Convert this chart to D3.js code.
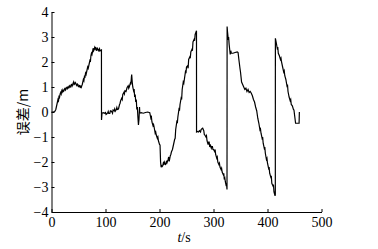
<!DOCTYPE html>
<html><head><meta charset="utf-8">
<script src="https://cdn.jsdelivr.net/npm/d3@7"></script>
<style>
html,body{margin:0;padding:0;background:#fff;}
svg{display:block;}
</style></head>
<body>
<svg id="c" width="378" height="249"></svg>
<script>
const time = [0,3,6,8,10,11,12,13,14,15,16,17,18,19,20,21,22,23,24,25,26,27,28,29,30,31,32,33,34,35,36,37,38,39,40,41,42,43,44,45,46,47,48,49,50,51,52,53,54,55,56,57,58,59,60,61,62,63,64,65,66,67,68,69,70,71,72,73,74,75,76,77,78,79,80,81,82,83,84,85,86,87,88,89,90,91,92.5,92.6,93.5,
96,98,100,101,102,104,105,106,108,109,110,112,113,114,116,117,118,120,121,122,124,126,127,128,130,131,132,134,135,136,138,139,140,142,143,144,146,147,148,148.5,149.5,150.5,152,153,154,155,156,157,158,159,160,161,162,163,163.5,166,170,174,178,182,184,185,186,188,189,190,192,193,194,196,197,198,200,201,202,203,204,205,206,207,208,209,210,211,212,213,214,216,217,218,220,221,222,224,225,226,228,229,230,232,233,234,236,237,238,240,241,242,244,245,246,248,249,250,252,253,254,256,257,258,260,261,262,264,265,266,268,268.5,
268.6,270,272,274,276,277,278,280,282,283,284,286,287,288,290,291,292,293,294,296,297,298,299,300,302,303,304,306,307,308,310,311,312,314,315,316,318,319,320,321,322,323,324,325,
325.2,326,327.5,328,329,330,331,332,333,336,340,344,345.5,347,349,350,352,354,356,358,360,362,364,366,368,370,372,374,376,378,380,382,384,386,387,388,390,391,392,394,395,396,398,399,400,402,403,404,406,407,408,410,411,412,414,414.5,
414.6,416,418,419,420,422,424,425,426,428,430,431,432,434,436,437,438,440,442,443,444,446,448,449,450,452,456,458.5,459];
const error = [0,0.0,0.02,0.1,0.3,0.4,0.5,0.45,0.66,0.6,0.72,0.78,0.72,0.85,0.8,0.88,0.82,0.84,0.92,0.95,0.88,0.92,0.98,1.0,0.93,0.96,1.02,1.05,0.98,1.0,1.08,1.1,1.03,1.08,1.15,1.2,1.1,1.12,1.18,1.15,1.08,1.05,1.12,1.1,1.02,1.0,1.06,1.05,0.98,0.97,1.05,1.1,1.2,1.3,1.25,1.42,1.4,1.55,1.5,1.6,1.7,1.8,1.75,1.85,1.95,2.05,2.0,2.25,2.35,2.3,2.4,2.55,2.45,2.5,2.58,2.5,2.6,2.45,2.52,2.55,2.48,2.5,2.42,2.52,2.46,2.45,2.48,-0.32,-0.05,
-0.03,-0.05,-0.02,-0.1,-0.08,-0.04,0.02,-0.06,-0.06,0.04,0.05,0.0,-0.05,0.08,0.05,0.12,0.03,0.1,0.18,0.1,0.12,0.3,0.35,0.45,0.55,0.5,0.7,0.78,0.72,0.85,0.82,0.9,0.98,1.05,0.95,1.0,1.15,1.1,1.4,1.5,1.2,1.0,0.85,0.92,0.6,0.7,0.4,0.5,0.1,0.2,-0.2,-0.52,-0.3,0.2,-0.05,-0.03,-0.05,-0.02,0.0,-0.03,-0.25,-0.2,-0.4,-0.55,-0.5,-0.6,-0.85,-0.8,-0.92,-1.05,-1.0,-1.15,-1.3,-1.32,-2.0,-2.21,-2.15,-2.18,-2.15,-2.05,-2.12,-2.0,-2.05,-2.1,-2.08,-1.95,-2.02,-1.9,-1.8,-1.98,-1.75,-1.7,-1.6,-1.5,-1.4,-1.3,-1.1,-1.05,-0.7,-0.4,-0.45,-0.2,0.1,0.05,0.3,0.55,0.5,0.9,1.2,1.15,1.3,1.6,1.55,1.8,1.85,1.75,2.1,2.2,2.15,2.4,2.5,2.45,2.8,2.9,2.85,3.1,3.22,3.25,
-0.8,-0.78,-0.8,-0.75,-0.8,-0.7,-0.68,-0.65,-0.75,-0.9,-0.92,-1.0,-0.95,-1.15,-1.3,-1.2,-1.2,-1.4,-1.3,-1.45,-1.38,-1.38,-1.5,-1.5,-1.58,-1.5,-1.7,-1.85,-1.8,-2.0,-2.1,-2.05,-2.2,-2.3,-2.25,-2.4,-2.5,-2.45,-2.7,-2.65,-2.8,-2.9,-2.85,-3.1,
3.42,3.2,2.88,3.0,2.7,2.5,2.3,2.45,2.35,2.35,2.38,2.4,2.38,2.1,1.75,1.6,1.2,1.1,1.0,0.9,0.95,0.82,0.9,0.78,0.82,0.75,0.65,0.5,0.4,0.2,0.05,-0.25,-0.45,-0.72,-0.68,-0.85,-1.05,-1.0,-1.25,-1.45,-1.4,-1.65,-1.9,-1.85,-2.05,-2.25,-2.2,-2.45,-2.6,-2.55,-2.85,-2.95,-2.9,-3.2,-3.35,-3.3,
2.95,2.8,2.55,2.6,2.35,2.25,2.1,2.15,2.0,1.8,1.6,1.65,1.45,1.3,1.05,1.1,0.82,0.6,0.45,0.5,0.3,0.25,0.1,0.08,-0.1,-0.45,-0.45,-0.45,0.0];
const xTicks = [0,100,200,300,400,500];
const yTicks = [-4,-3,-2,-1,0,1,2,3,4];
const xLabel = "t";
const xUnit = "/s";
const yLabel = "误差/m";

const SERIF = "'Liberation Serif','DejaVu Serif',serif";
const svg = d3.select("#c");
const x = d3.scaleLinear().domain([0,500]).range([51.5,321.5]);
const y = d3.scaleLinear().domain([-4,4]).range([212,12]);

const gx = svg.append("g").attr("transform","translate(0,212)")
  .call(d3.axisBottom(x).tickValues(xTicks).tickSizeInner(-3).tickSizeOuter(0).tickPadding(5).tickFormat(d3.format("d")));
const gy = svg.append("g").attr("transform","translate(51.5,0)")
  .call(d3.axisLeft(y).tickValues(yTicks).tickSizeInner(-3).tickSizeOuter(0).tickPadding(3).tickFormat(d3.format("d")));
[gx,gy].forEach(g=>{
  g.attr("font-family",SERIF).attr("font-size",14);
  g.selectAll("text").style("font-family",SERIF).style("font-size","14px").attr("fill","#000");
  g.selectAll("line").attr("stroke","#000");
  g.select(".domain").attr("stroke","#000");
});

const pts = time.map((t,i)=>[t,error[i]]);
svg.append("path").datum(pts)
  .attr("fill","none").attr("stroke","#000").attr("stroke-width",1.2)
  .attr("d", d3.line().x(d=>x(d[0])).y(d=>y(d[1])));

const xl = svg.append("text").attr("x",184).attr("y",242).attr("text-anchor","middle")
  .style("font-family",SERIF).style("font-size","14px");
xl.append("tspan").style("font-style","italic").text(xLabel);
xl.append("tspan").text(xUnit);

svg.append("text").attr("transform","translate(28,112) rotate(-90)").attr("text-anchor","middle")
  .style("font-family","'Noto Sans CJK SC',sans-serif").style("font-size","14px").text(yLabel);
</script>
</body></html>
